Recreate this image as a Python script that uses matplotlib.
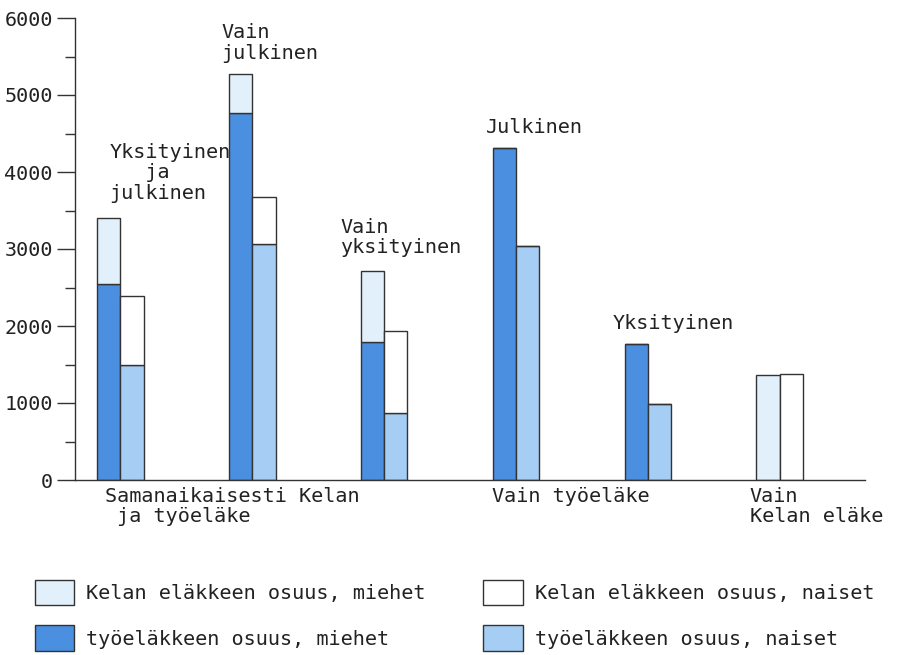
import matplotlib
matplotlib.use("Agg")
import matplotlib.pyplot as plt
from matplotlib.patches import Patch
from matplotlib.ticker import MultipleLocator

# ---- data ----
subgroups = ["Yksityinen\n   ja\njulkinen", "Vain\njulkinen", "Vain\nyksityinen",
             "Julkinen", "Yksityinen", ""]
groups = ["Samanaikaisesti Kelan\n ja työeläke", "Vain työeläke", "Vain\nKelan eläke"]
group_pos = [0, 3, 5]

tyo_men = [2540, 4760, 1790, 4310, 1760, 0]
kela_men = [860, 510, 930, 0, 0, 1370]
tyo_women = [1490, 3060, 870, 3040, 990, 0]
kela_women = [900, 620, 1060, 0, 0, 1380]

legend_labels = ["Kelan eläkkeen osuus, miehet", "työeläkkeen osuus, miehet",
                 "Kelan eläkkeen osuus, naiset", "työeläkkeen osuus, naiset"]

c_kela_m = "#e2f0fb"
c_tyo_m = "#4b8fe0"
c_kela_w = "#ffffff"
c_tyo_w = "#a6cdf3"

FONT = "DejaVu Sans Mono"
plt.rcParams["font.family"] = [FONT]
FS = 14.5
TC = "#222222"

fig = plt.figure(figsize=(9.09, 6.55), dpi=100)
ax = fig.add_axes([75 / 909, 1 - 480 / 655, (865 - 75) / 909, (480 - 18) / 655])

w = 0.178
x = list(range(len(subgroups)))
xm = [i - w / 2 for i in x]
xw = [i + w / 2 for i in x]
ec = "#333333"
lw = 1.0
ax.bar(xm, tyo_men, width=w, color=c_tyo_m, edgecolor=ec, linewidth=lw)
ax.bar(xm, kela_men, width=w, bottom=tyo_men, color=c_kela_m, edgecolor=ec, linewidth=lw)
ax.bar(xw, tyo_women, width=w, color=c_tyo_w, edgecolor=ec, linewidth=lw)
ax.bar(xw, kela_women, width=w, bottom=tyo_women, color=c_kela_w, edgecolor=ec, linewidth=lw)

ax.set_xlim(-0.341, 5.644)
ax.set_ylim(0, 6000)
ax.spines["top"].set_visible(False)
ax.spines["right"].set_visible(False)
for s in ("left", "bottom"):
    ax.spines[s].set_color("#333333")
    ax.spines[s].set_linewidth(1.0)
ax.set_xticks([])
ax.yaxis.set_major_locator(MultipleLocator(1000))
ax.yaxis.set_minor_locator(MultipleLocator(500))
ax.tick_params(axis="y", which="major", length=13, width=1.0, color="#333333",
               labelsize=FS, pad=3, labelcolor=TC)
ax.tick_params(axis="y", which="minor", length=7, width=1.0, color="#333333")

# subgroup labels above bars
label_xoff = [-0.08, -0.23, -0.33, -0.23, -0.27, 0]
label_yoff = [200, 150, 170, 150, 150, 0]
for i, lab in enumerate(subgroups):
    if not lab:
        continue
    top_m = tyo_men[i] + kela_men[i]
    ax.text(x[i] + label_xoff[i], top_m + label_yoff[i], lab, ha="left", va="bottom",
            fontsize=FS, color=TC, linespacing=1.1)

# group labels under axis
gx_off = [-0.11, -0.18, -0.23]
for gp, g, off in zip(group_pos, groups, gx_off):
    ax.text(gp + off, -90, g, ha="left", va="top", fontsize=FS, color=TC,
            linespacing=1.1)

handles = [Patch(facecolor=c_kela_m, edgecolor=ec, linewidth=1.0),
           Patch(facecolor=c_tyo_m, edgecolor=ec, linewidth=1.0),
           Patch(facecolor=c_kela_w, edgecolor=ec, linewidth=1.0),
           Patch(facecolor=c_tyo_w, edgecolor=ec, linewidth=1.0)]
leg = fig.legend(handles, legend_labels, ncols=2, loc="upper left",
                 bbox_to_anchor=(35 / 909, 1 - 580 / 655), frameon=False,
                 fontsize=FS, handlelength=1.95, handleheight=1.55, handletextpad=0.6,
                 columnspacing=2.85, labelspacing=1.0, borderpad=0, borderaxespad=0)
for t in leg.get_texts():
    t.set_color(TC)

fig.savefig("out.png", dpi=100)
